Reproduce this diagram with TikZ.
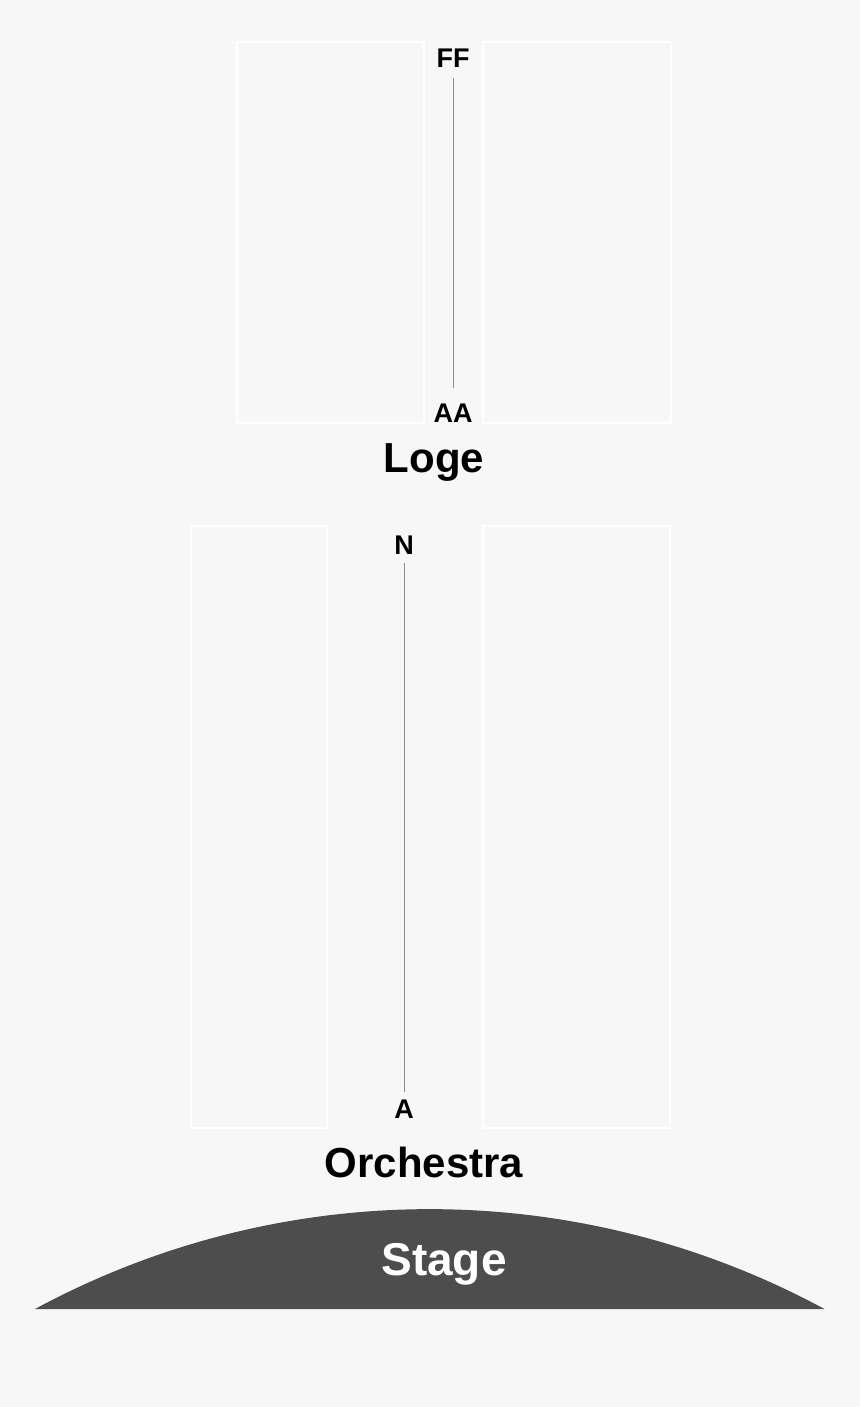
\documentclass[tikz,border=0pt]{standalone}
\usepackage{fontspec}
\setmainfont{Liberation Sans}
\definecolor{floor}{HTML}{F7F7F7}
\definecolor{stagegray}{HTML}{4D4D4D}
\definecolor{aislegray}{HTML}{8C8C8C}
\tikzset{
  block/.style={draw=white, line width=1.3pt},
  aisle/.style={draw=aislegray, line width=0.9pt},
  rowlabel/.style={font=\bfseries\fontsize{27}{32}\selectfont, inner sep=0pt, anchor=base},
  section/.style={font=\bfseries\fontsize{42}{50}\selectfont, inner sep=0pt, anchor=base},
}

\begin{document}
\begin{tikzpicture}[x=1pt,y=-1pt]
    % Background
    \fill[floor] (0,0) rectangle (860,1407);

    % Seating blocks
    \draw[block] (237,42) rectangle (424,423);
    \draw[block] (483,42) rectangle (671,423);
    \draw[block] (191,526) rectangle (327,1128);
    \draw[block] (483,526) rectangle (670,1128);

    % Row labels
    \node[rowlabel] (FF) at (453,68) {FF};
    \node[rowlabel] (AA) at (453,422) {AA};
    \node[rowlabel] (N) at (404,554) {N};
    \node[rowlabel] (A) at (404,1118) {A};

    % Aisles
    \draw[aisle, shorten <=10pt, shorten >=15pt] (FF.south) -- (AA.north);
    \draw[aisle, shorten <=9pt, shorten >=7pt] (N.south) -- (A.north);

    % Section names
    \node[section] (loge) at (434,472) {Loge};
    \node[section] (orch) at (424,1177) {Orchestra};

    % Stage
    \fill[stagegray] (35,1309) arc[start angle=241.6, end angle=298.4, radius=830] -- cycle;
    \node[section, text=white, font=\bfseries\fontsize{46}{54}\selectfont] (stage) at (444,1275) {Stage};

  \end{tikzpicture}
\end{document}
